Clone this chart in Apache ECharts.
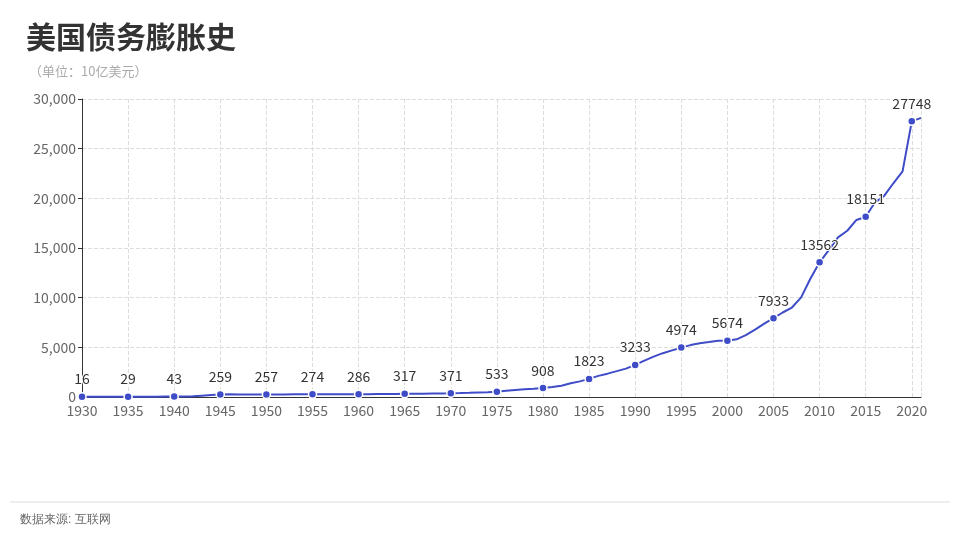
<!DOCTYPE html>
<html>
<head>
<meta charset="utf-8">
<script src="https://cdn.jsdelivr.net/npm/echarts@6/dist/echarts.min.js"></script>
<style>html,body{margin:0;padding:0;background:#fff}#c{width:960px;height:540px}</style>
</head>
<body>
<div id="c"></div>
<script>
var years = [];
for (var y = 1930; y <= 2021; y++) years.push(y);
var debt = [16.2,16.8,19.5,22.5,27.1,28.7,33.8,36.4,37.2,40.4,
  43.0,49.0,72.4,136.7,201.0,258.7,269.4,258.3,252.3,252.8,
  257.4,255.2,259.1,266.1,271.3,274.4,272.7,270.5,276.3,284.7,
  286.3,289.0,298.2,305.9,311.7,317.3,319.9,326.2,347.6,353.7,
  370.9,398.1,427.3,458.1,475.1,533.2,620.4,698.8,771.5,826.5,
  907.7,997.9,1142.0,1377.2,1572.3,1823.1,2125.3,2350.3,2602.3,2857.4,
  3233.3,3665.3,4064.6,4411.5,4692.7,4974.0,5224.8,5413.1,5526.2,5656.3,
  5674.2,5807.5,6228.2,6783.2,7379.1,7932.7,8507.0,9007.7,10024.7,11909.8,
  13561.6,14790.3,16066.2,16738.2,17824.1,18150.6,19573.4,20244.9,21516.1,22719.4,
  27748,28100];
var markYears = [1930,1935,1940,1945,1950,1955,1960,1965,1970,1975,1980,1985,1990,1995,2000,2005,2010,2015,2020];
var markValues = [16,29,43,259,257,274,286,317,371,533,908,1823,3233,4974,5674,7933,13562,18151,27748];

var lineData = years.map(function (y, i) { return [y, debt[i]]; });
var pointData = markYears.map(function (y, i) { return [y, markValues[i]]; });

var font = '"Noto Sans CJK SC", "Noto Sans", sans-serif';
var blue = '#3f4cc8';
var chart = echarts.init(document.getElementById('c'));
chart.setOption({
  animation: false,
  textStyle: { fontFamily: font },
  title: [
    { text: '美国债务膨胀史', left: 21, top: 17, textStyle: { fontSize: 30, fontWeight: 'bold', color: '#333', fontFamily: font } },
    { text: '（单位：10亿美元）', left: 24, top: 60, textStyle: { fontSize: 13, fontWeight: 'normal', color: '#aaa', fontFamily: font } }
  ],
  grid: { left: 82, right: 39, top: 99, bottom: 143 },
  xAxis: {
    type: 'value', min: 1930, max: 2021, interval: 5,
    axisLine: { lineStyle: { color: '#333' } },
    axisTick: { show: false },
    axisLabel: { color: '#666', fontSize: 14, margin: 7,
      formatter: function (v) { return v % 5 === 0 ? String(v) : ''; } },
    splitLine: { show: true, lineStyle: { type: 'dashed', color: '#ddd' } }
  },
  yAxis: {
    type: 'value', min: 0, max: 30000, interval: 5000,
    axisLine: { show: true, lineStyle: { color: '#333' } },
    axisTick: { show: true, length: 4 },
    axisLabel: { color: '#666', fontSize: 14, margin: 6,
      formatter: function (v) { return v.toLocaleString('en-US'); } },
    splitLine: { show: true, lineStyle: { type: 'dashed', color: '#ddd' } }
  },
  series: [
    {
      type: 'line', data: lineData, showSymbol: false, symbol: 'none',
      lineStyle: { color: blue, width: 2 }, z: 2
    },
    {
      type: 'scatter', data: pointData, symbol: 'circle', symbolSize: 8,
      itemStyle: { color: blue, borderColor: '#fff', borderWidth: 1.5, opacity: 1 },
      label: { show: true, position: 'top', distance: 6, color: '#333', fontSize: 14,
        textBorderColor: '#fff', textBorderWidth: 2,
        formatter: function (p) { return p.value[1]; } },
      z: 3
    }
  ],
  graphic: [
    { type: 'rect', shape: { x: 10, y: 501, width: 940, height: 2 }, style: { fill: '#eee' } },
    { type: 'text', left: 20, top: 514, style: { text: '数据来源: 互联网', fill: '#666', fontSize: 12, font: '12px ' + font } }
  ]
});
</script>
</body>
</html>
